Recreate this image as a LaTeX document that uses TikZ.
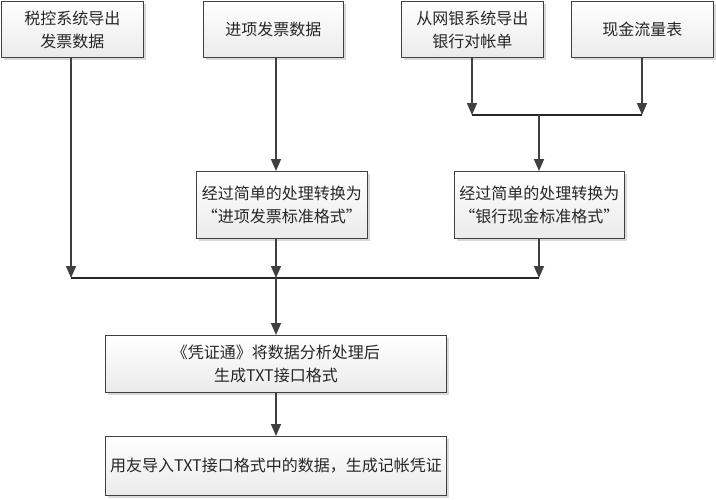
\documentclass[tikz,border=0pt]{standalone}
\usepackage{fontspec}
\setmainfont{Noto Sans CJK SC}
\usetikzlibrary{arrows.meta,shadows}
\definecolor{linec}{HTML}{404040}
\definecolor{txtc}{HTML}{262626}
\newcommand{\myLq}{\makebox[1em][r]{“}}
\newcommand{\myRq}{\makebox[1em][l]{”}}
\tikzset{
  box/.style={draw=linec, line width=0.9pt, top color=white, bottom color=black!8,
    anchor=north west, inner sep=0pt, align=center, text=txtc,
    font=\fontsize{16}{23}\selectfont,
    drop shadow={shadow xshift=3pt, shadow yshift=-3pt, fill=black!15, opacity=1}},
  conn/.style={draw=linec, line width=1.6pt, -{Triangle[width=10pt,length=12pt]}},
  bar/.style={draw=black!85, line width=1.3pt}
}
\begin{document}
\begin{tikzpicture}[x=1pt,y=-1pt]
\useasboundingbox (0,0) rectangle (716,499);
\fill[white] (0,0) rectangle (716,499);
\node[box, minimum width=142pt, minimum height=56pt] (b1) at (1,1) {税控系统导出\\发票数据};
\node[box, minimum width=140pt, minimum height=56pt] (b2) at (203,1) {进项发票数据};
\node[box, minimum width=142pt, minimum height=56pt] (b3) at (401,1) {从网银系统导出\\银行对帐单};
\node[box, minimum width=142pt, minimum height=56pt] (b4) at (571,1) {现金流量表};
\node[box, minimum width=171pt, minimum height=67pt] (b5) at (196,171) {经过简单的处理转换为\\\myLq 进项发票标准格式\myRq};
\node[box, minimum width=170pt, minimum height=67pt] (b6) at (454,171) {经过简单的处理转换为\\\myLq 银行现金标准格式\myRq};
\node[box, minimum width=341pt, minimum height=57pt] (b7) at (105,335) {《凭证通》将数据分析处理后\\生成TXT接口格式};
\node[box, minimum width=341pt, minimum height=59pt] (b8) at (105,436) {用友导入TXT接口格式中的数据，生成记帐凭证};

\coordinate (ja) at (472,115);
\coordinate (jb) at (642,115);
\coordinate (jc) at (539,115);
\coordinate (l1) at (71,278);
\coordinate (l2) at (276,278);
\coordinate (l3) at (539,278);

\draw[bar] (ja) -- (jb);
\draw[bar] (l1) -- (l3);
\draw[conn] (b1.south -| l1) -- (l1);
\draw[conn] (b2.south -| l2) -- (b5.north -| l2);
\draw[conn] (b5.south -| l2) -- (l2);
\draw[conn] (b3.south -| ja) -- (ja);
\draw[conn] (b4.south -| jb) -- (jb);
\draw[conn] (jc) -- (b6.north -| jc);
\draw[conn] (b6.south -| l3) -- (l3);
\draw[conn] (l2) -- (b7.north -| l2);
\draw[conn] (b7.south -| l2) -- (b8.north -| l2);
\end{tikzpicture}
\end{document}
